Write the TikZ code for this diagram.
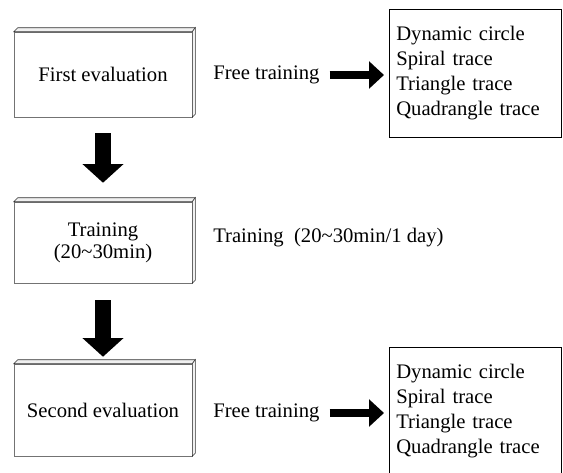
\documentclass[tikz,border=0pt]{standalone}
\usepackage{fontspec}
\setmainfont{Liberation Serif}
\usetikzlibrary{arrows.meta}

\tikzset{
  evalbox/.style={draw=black!55, fill=white, minimum width=133.5pt, minimum height=63.75pt,
    align=center, inner sep=0pt, font=\fontsize{15.5}{16.5}\selectfont},
  bevel/.style={draw=black!80, fill=black!6, line width=0.4pt},
  label/.style={inner sep=0pt, font=\fontsize{15.5}{18.75}\selectfont},
  listbox/.style={draw, align=left, text width=118.5pt, inner xsep=5.25pt, minimum height=96pt,
    font=\fontsize{15.5}{18.75}\selectfont},
  bigarrow/.style={line width=12pt, -{Triangle[width=30pt,length=14pt]}},
  smallarrow/.style={line width=6pt, -{Triangle[width=20pt,length=11.25pt]}},
}

\begin{document}
\begin{tikzpicture}[x=0.75pt, y=-0.75pt]
    \clip (0,0) rectangle (563,472);

    % Left column
    \node[evalbox] (eval1) at (103,74.5) {First evaluation};
    \node[evalbox, minimum height=60.75pt] (train) at (103,242.5) {Training\\(20\textasciitilde30min)};
    \node[evalbox, minimum height=69pt] (eval2) at (103,410) {Second evaluation};

    % 3D edges of the boxes
    \foreach \b in {eval1,train,eval2}{
        \draw[bevel] (\b.north west) -- ++(4,-4) -- ([shift={(3,-4)}]\b.north east) -- (\b.north east) -- cycle;
        \draw[bevel] (\b.north east) -- ++(3,-4) -- ([shift={(3,-3)}]\b.south east) -- (\b.south east) -- cycle;
    }

    % Texts
    \node[label, anchor=west] (free1) at (213,75) {Free training};
    \node[label, anchor=west] (note) at (213,238) {Training\ \ (20\textasciitilde30min/1 day)};
    \node[label, anchor=west] (free2) at (213,413) {Free training};

    % Lists
    \node[listbox, anchor=north west] (list1) at (389,9) {Dynamic circle\\Spiral trace\\Triangle trace\\Quadrangle trace};
    \node[listbox, anchor=west] (list2) at (389,411) {Dynamic circle\\Spiral trace\\Triangle trace\\Quadrangle trace};

    % Arrows
    \draw[bigarrow, shorten <=12pt, shorten >=14.25pt] (eval1) -- (train);
    \draw[bigarrow, shorten <=12.75pt, shorten >=5.25pt] (train) -- (eval2);
    \draw[smallarrow, shorten <=7.5pt, shorten >=3.75pt] (free1.east) -- (free1 -| list1.west);
    \draw[smallarrow, shorten <=7.5pt, shorten >=3.75pt] (free2.east) -- (free2 -| list2.west);
\end{tikzpicture}
\end{document}
